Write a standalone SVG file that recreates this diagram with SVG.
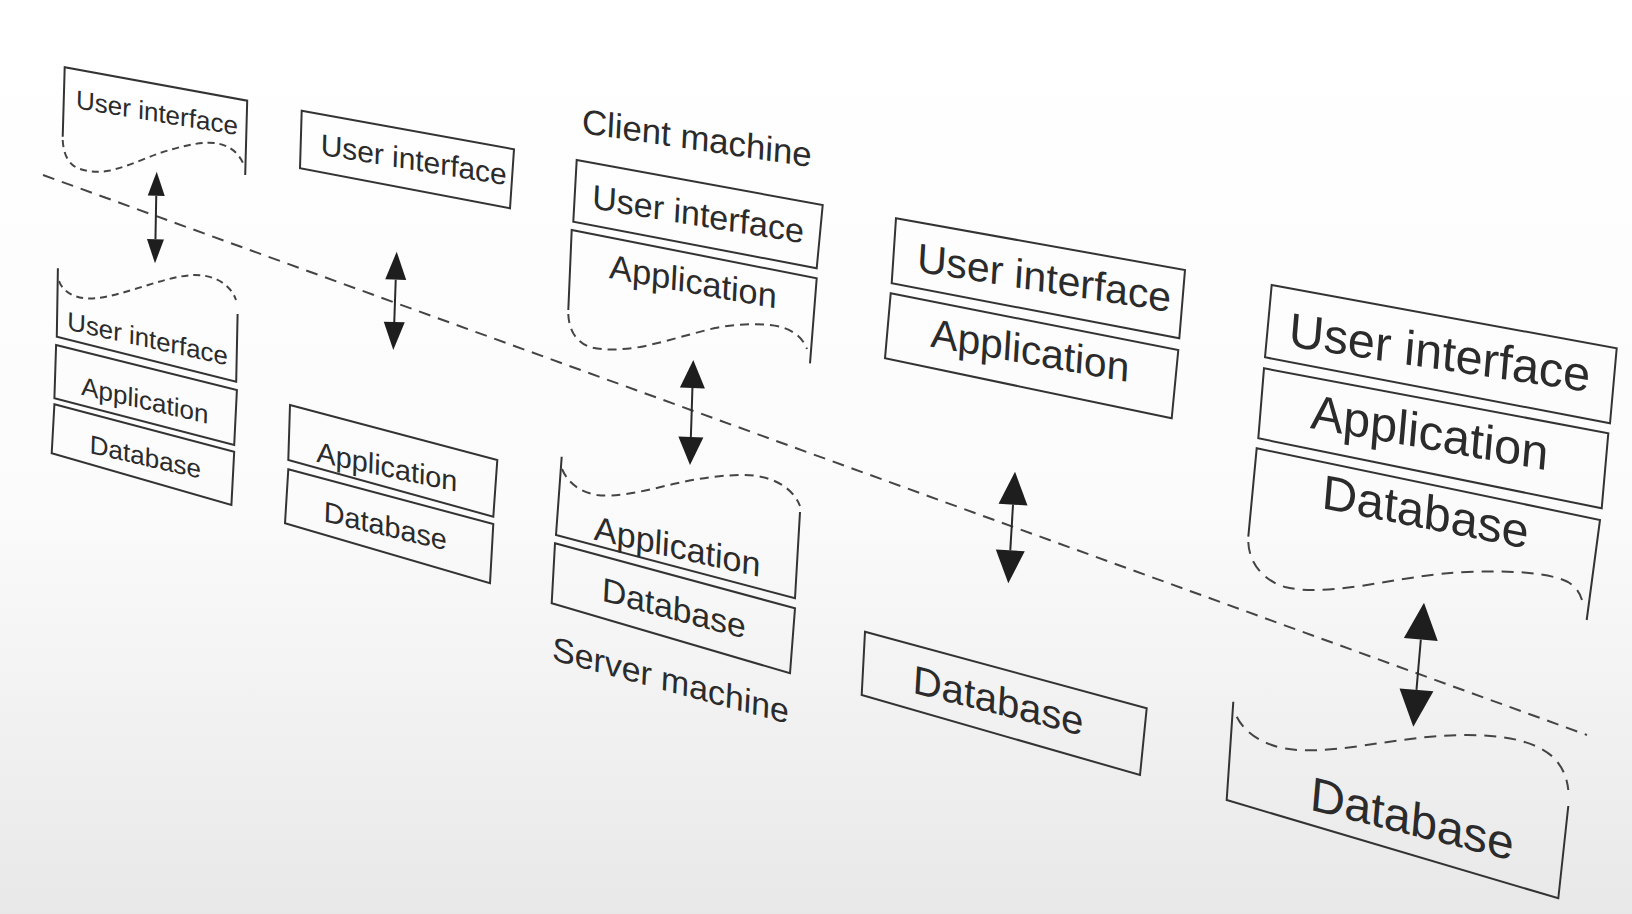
<svg xmlns="http://www.w3.org/2000/svg" width="1632" height="914" viewBox="0 0 1632 914">
<defs>
<linearGradient id="bg" x1="0" y1="0" x2="0" y2="1">
<stop offset="0" stop-color="#ffffff"/>
<stop offset="0.55" stop-color="#fbfbfb"/>
<stop offset="1" stop-color="#e8e8e8"/>
</linearGradient>
<style>
.box{fill:none;stroke:#333;stroke-width:2;stroke-linejoin:miter}
.edge{fill:none;stroke:#333;stroke-width:2}
.wave{fill:none;stroke:#444;stroke-width:2;stroke-linecap:butt}
.w1{stroke-dasharray:7 5}
.w3{stroke-dasharray:9 6}
.w5{stroke-dasharray:12 8}
.sep{fill:none;stroke:#444;stroke-width:2;stroke-dasharray:12 8}
.shaft{stroke:#2a2a2a;stroke-width:2}
.head{fill:#1e1e1e;stroke:none}
text{font-family:"Liberation Sans",Arial,Helvetica,sans-serif;fill:#2b2b2b;text-anchor:middle}
</style>
</defs>
<rect x="0" y="0" width="1632" height="914" fill="url(#bg)"/>

<g id="separator">
<line class="sep" x1="43" y1="175" x2="1587" y2="735"/>
</g>

<!-- Column 1 -->
<g id="c1-client-ui">
<path class="edge" d="M62.7,136.7 L64.7,67.3 L247.2,100.7 L245.2,175"/>
<path class="wave w1" d="M62.7,140 C63.5,156 70,166 80,169 C90,172 100,172.5 110,170.5 C130,166 145,158 160,153 C178,147 195,143 208,142.7 C225,142.5 237,150 243,163"/>
<text font-size="26" transform="matrix(1,0.166,-0.03,1,156.7,121.7)">User interface</text>
</g>
<g id="c1-server-ui">
<path class="edge" d="M57.9,268.3 L56.8,336.7 L236.2,381.7 L237.6,314"/>
<path class="wave w1" d="M59,281 C62,290 72,297 85,298.3 C100,299.5 115,295 135,289 C155,283 175,276 193,275 C213,274.5 230,283 236,300"/>
<text font-size="25.8" transform="matrix(1,0.223,-0.03,1,147.3,347.5)">User interface</text>
</g>
<g id="c1-server-app">
<polygon class="box" points="56.1,345 236.9,390 234.2,445 54.4,398.3"/>
<text font-size="26" transform="matrix(1,0.228,-0.03,1,144.6,409.2)">Application</text>
</g>
<g id="c1-server-db">
<polygon class="box" points="54.4,404.3 234.2,451.7 231.4,505 51.7,453.3"/>
<text font-size="26" transform="matrix(1,0.232,-0.03,1,145.2,465.8)">Database</text>
</g>

<!-- Column 2 -->
<g id="c2-client-ui">
<polygon class="box" points="301.7,110.7 514,149.3 510,208.3 300,168.3"/>
<text font-size="29.9" transform="matrix(1,0.164,-0.03,1,413.4,170)">User interface</text>
</g>
<g id="c2-server-app">
<polygon class="box" points="290,405 497.3,460 493.3,516.7 288.3,460"/>
<text font-size="28.8" transform="matrix(1,0.214,-0.03,1,386.7,476.7)">Application</text>
</g>
<g id="c2-server-db">
<polygon class="box" points="288.3,469.3 493.3,524 490,583.3 285,523.3"/>
<text font-size="28.8" transform="matrix(1,0.236,-0.03,1,385,535.8)">Database</text>
</g>

<!-- Column 3 -->
<g id="c3-label-client">
<text font-size="34.7" transform="matrix(1,0.148,-0.05,1,696.3,150)">Client machine</text>
</g>
<g id="c3-client-ui">
<polygon class="box" points="576.7,160 822.7,205 816.7,268.3 573.3,221.7"/>
<text font-size="34" transform="matrix(1,0.165,-0.05,1,697.5,225.8)">User interface</text>
</g>
<g id="c3-client-app">
<path class="edge" d="M568.3,310 L571.7,230 L816.7,278.3 L810,363.3"/>
<path class="wave w3" d="M568.3,314 C569,332 578,344 592,347.5 C605,350.5 620,350 640,347 C665,342 690,334 715,328 C735,324 753,323.5 770,325 C790,327 802,336 807,349"/>
<text font-size="34.2" transform="matrix(1,0.182,-0.05,1,692.5,293.3)">Application</text>
</g>
<g id="c3-server-app">
<path class="edge" d="M561.7,456.7 L556,535 L795,598.3 L800,512"/>
<path class="wave w3" d="M562,469 C568,483 580,492 597,495 C615,497.5 640,492 665,486 C690,480 715,475 743,475 C770,475 792,486 800,506"/>
<text font-size="34" transform="matrix(1,0.225,-0.05,1,676.7,558.3)">Application</text>
</g>
<g id="c3-server-db">
<polygon class="box" points="555,543.3 795,608.3 790,673.3 551.7,603.3"/>
<text font-size="33.6" transform="matrix(1,0.266,-0.05,1,673.3,619.7)">Database</text>
</g>
<g id="c3-label-server">
<text font-size="33.8" transform="matrix(1,0.271,-0.05,1,670,691.7)">Server machine</text>
</g>

<!-- Column 4 -->
<g id="c4-client-ui">
<polygon class="box" points="896,218.3 1185,270 1179.3,338.3 891.7,283.3"/>
<text font-size="40.8" transform="matrix(1,0.16,-0.06,1,1043.3,291.7)">User interface</text>
</g>
<g id="c4-client-app">
<polygon class="box" points="890.7,293.3 1178.3,350 1171.7,418.3 885,358.3"/>
<text font-size="40.6" transform="matrix(1,0.179,-0.06,1,1029.2,364.2)">Application</text>
</g>
<g id="c4-server-db">
<polygon class="box" points="865,631.7 1146.7,708.3 1140,775 861.7,695"/>
<text font-size="39.8" transform="matrix(1,0.253,-0.06,1,997.5,714.2)">Database</text>
</g>

<!-- Column 5 -->
<g id="c5-client-ui">
<polygon class="box" points="1271.7,285 1616.7,348.3 1610,423.3 1265,357.3"/>
<text font-size="48.4" transform="matrix(1,0.152,-0.085,1,1438.3,369.2)">User interface</text>
</g>
<g id="c5-client-app">
<polygon class="box" points="1264,368.3 1608.3,433.3 1601.7,508.3 1258.3,438.3"/>
<text font-size="48.5" transform="matrix(1,0.179,-0.085,1,1428.3,449.2)">Application</text>
</g>
<g id="c5-client-db">
<path class="edge" d="M1248.3,536.7 L1256.7,448.3 L1600,520 L1586.7,620"/>
<path class="wave w5" d="M1248.3,542 C1249,562 1262,580 1285,587 C1305,592 1330,590 1360,586 C1395,581 1430,573 1473,571.7 C1515,570.5 1550,573 1568,582 C1576,587 1580,593 1582,600"/>
<text font-size="48.2" transform="matrix(1,0.198,-0.085,1,1424.2,528.3)">Database</text>
</g>
<g id="c5-server-db">
<path class="edge" d="M1233.3,701.7 L1226.7,800 L1558.3,898.3 L1568.3,806"/>
<path class="wave w5" d="M1236.7,716.7 C1245,733 1262,744 1285,748.5 C1305,752 1330,750 1360,746 C1395,741 1430,735 1467,735 C1505,735 1535,741 1553,757 C1563,767 1567,778 1568.3,790"/>
<text font-size="47.5" transform="matrix(1,0.252,-0.085,1,1410.8,835)">Database</text>
</g>

<g id="connectors">
<g id="arrow-c1">
<line class="shaft" x1="156.25" y1="195.7" x2="155.45" y2="239.3"/>
<polygon class="head" points="156.7,171.7 164.75,195.9 147.75,195.5"/>
<polygon class="head" points="155,263.3 146.95,239.1 163.95,239.5"/>
</g>
<g id="arrow-c2">
<line class="shaft" x1="395.73" y1="279.7" x2="394.27" y2="322"/>
<polygon class="head" points="396.7,251.7 406.22,280.06 385.24,279.34"/>
<polygon class="head" points="393.3,350 383.78,321.64 404.76,322.36"/>
</g>
<g id="arrow-c3">
<line class="shaft" x1="692.42" y1="388" x2="690.88" y2="437"/>
<polygon class="head" points="693.3,360 704.92,388.39 679.92,387.61"/>
<polygon class="head" points="690,465 678.38,436.61 703.38,437.39"/>
</g>
<g id="arrow-c4">
<line class="shaft" x1="1013.02" y1="504.64" x2="1010.28" y2="550.36"/>
<polygon class="head" points="1015,471.7 1027.49,505.51 998.55,503.77"/>
<polygon class="head" points="1008.3,583.3 995.81,549.49 1024.75,551.23"/>
</g>
<g id="arrow-c5">
<line class="shaft" x1="1420.82" y1="639.56" x2="1416.48" y2="689.84"/>
<polygon class="head" points="1424,602.7 1437.76,641.02 1403.88,638.1"/>
<polygon class="head" points="1413.3,726.7 1399.54,688.38 1433.42,691.3"/>
</g>
</g>
</svg>
